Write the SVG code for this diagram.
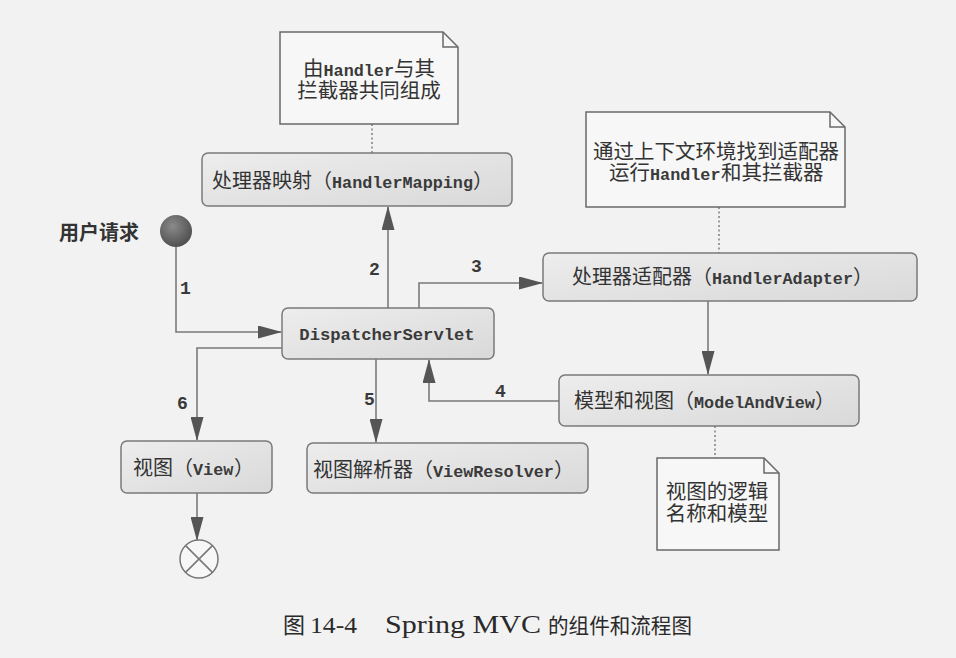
<svg xmlns="http://www.w3.org/2000/svg" width="956" height="658" viewBox="0 0 956 658">
<defs>
<style>
.box{fill:url(#boxg);stroke:#7a7a7a;stroke-width:1.5}
.note{fill:#f7f7f7;stroke:#6a6a6a;stroke-width:1.5}
.fold{fill:none;stroke:#6a6a6a;stroke-width:1.5}
.line{fill:none;stroke:#7a7a7a;stroke-width:1.6}
.dot{fill:none;stroke:#777;stroke-width:1.4;stroke-dasharray:2 2.5}
.cjk{font-family:"Noto Sans CJK SC","Noto Sans CJK JP",sans-serif;font-size:20px;fill:#333}
.nt{font-size:20.5px}
.mono{font-family:"Liberation Mono",monospace;font-size:16.8px;font-weight:bold;fill:#3a3a3a}
.num{font-family:"Liberation Mono",monospace;font-size:18px;font-weight:bold;fill:#3a3a3a}
.cap{fill:#2a2a2a}
</style>
<linearGradient id="boxg" x1="0" y1="0" x2="1" y2="1">
<stop offset="0" stop-color="#ededed"/>
<stop offset="1" stop-color="#d9d9d9"/>
</linearGradient>
<radialGradient id="startg" cx="0.4" cy="0.35" r="0.7">
<stop offset="0" stop-color="#8a8a8a"/>
<stop offset="1" stop-color="#4c4c4c"/>
</radialGradient>
<marker id="arr" markerUnits="userSpaceOnUse" markerWidth="24" markerHeight="13" viewBox="0 0 24 13" refX="23" refY="6.5" orient="auto">
<path d="M0,0 L24,6.5 L0,13 Z" fill="#555"/>
</marker>
</defs>
<rect x="0" y="0" width="956" height="658" fill="#f2f2f2"/>

<g id="connectors">
<path class="line" d="M176,247 V332 H281" marker-end="url(#arr)"/>
<path class="line" d="M388,308 V207" marker-end="url(#arr)"/>
<path class="line" d="M419,308 V283 H542" marker-end="url(#arr)"/>
<path class="line" d="M708,301 V374" marker-end="url(#arr)"/>
<path class="line" d="M559,401 H429 V360" marker-end="url(#arr)"/>
<path class="line" d="M376,359 V442" marker-end="url(#arr)"/>
<path class="line" d="M282,348 H197 V440" marker-end="url(#arr)"/>
<path class="line" d="M197,493 V540" marker-end="url(#arr)"/>
<path class="dot" d="M372,124 V153"/>
<path class="dot" d="M719,207 V253"/>
<path class="dot" d="M715,426 V458"/>
<text class="num" x="180" y="294">1</text>
<text class="num" x="369" y="275">2</text>
<text class="num" x="471" y="272">3</text>
<text class="num" x="495" y="397">4</text>
<text class="num" x="364" y="405">5</text>
<text class="num" x="177" y="409">6</text>
</g>

<g id="start">
<circle cx="176" cy="231" r="16" fill="url(#startg)"/>
<text class="cjk" x="59" y="240" style="font-weight:bold">用户请求</text>
</g>

<g id="note-handler">
<path class="note" d="M280,32 H443 L458,47 V124 H280 Z"/>
<path class="fold" d="M443,32 V47 H458"/>
<text class="cjk nt" x="303" y="76">由</text>
<text class="mono" x="323.5" y="76">Handler</text>
<text class="cjk nt" x="394" y="76">与其</text>
<text class="cjk nt" x="369" y="98" text-anchor="middle">拦截器共同组成</text>
</g>

<g id="handler-mapping">
<rect class="box" x="202" y="153" width="310" height="53" rx="6"/>
<text class="cjk" x="212" y="188">处理器映射（</text>
<text class="mono" x="332" y="188">HandlerMapping</text>
<text class="cjk" x="473" y="188">）</text>
</g>

<g id="note-adapter">
<path class="note" d="M586,112 H830 L845,127 V207 H586 Z"/>
<path class="fold" d="M830,112 V127 H845"/>
<text class="cjk nt" x="716" y="159" text-anchor="middle">通过上下文环境找到适配器</text>
<text class="cjk nt" x="609" y="180">运行</text>
<text class="mono" x="650" y="180">Handler</text>
<text class="cjk nt" x="721" y="180">和其拦截器</text>
</g>

<g id="handler-adapter">
<rect class="box" x="543" y="253" width="374" height="48" rx="6"/>
<text class="cjk" x="572" y="284">处理器适配器（</text>
<text class="mono" x="712" y="284">HandlerAdapter</text>
<text class="cjk" x="853" y="284">）</text>
</g>

<g id="dispatcher">
<rect class="box" x="282" y="308" width="212" height="51" rx="6"/>
<text class="mono" x="387" y="340" text-anchor="middle" style="font-size:17.2px">DispatcherServlet</text>
</g>

<g id="model-and-view">
<rect class="box" x="559" y="375" width="300" height="51" rx="6"/>
<text class="cjk" x="574" y="408">模型和视图（</text>
<text class="mono" x="694" y="408">ModelAndView</text>
<text class="cjk" x="815" y="408">）</text>
</g>

<g id="view-resolver">
<rect class="box" x="307" y="443" width="281" height="50" rx="6"/>
<text class="cjk" x="313" y="477">视图解析器（</text>
<text class="mono" x="433" y="477">ViewResolver</text>
<text class="cjk" x="554" y="477">）</text>
</g>

<g id="view">
<rect class="box" x="121" y="441" width="151" height="52" rx="6"/>
<text class="cjk" x="133" y="475">视图（</text>
<text class="mono" x="193" y="475">View</text>
<text class="cjk" x="234" y="475">）</text>
</g>

<g id="end">
<circle cx="199" cy="559" r="19" fill="#f7f7f7" stroke="#777" stroke-width="1.5"/>
<path d="M185.6,545.6 L212.4,572.4 M212.4,545.6 L185.6,572.4" stroke="#777" stroke-width="1.5"/>
</g>

<g id="note-view">
<path class="note" d="M657,458 H764 L779,473 V550 H657 Z"/>
<path class="fold" d="M764,458 V473 H779"/>
<text class="cjk nt" x="717" y="499" text-anchor="middle">视图的逻辑</text>
<text class="cjk nt" x="717" y="521" text-anchor="middle">名称和模型</text>
</g>

<g id="caption" class="cap">
<text x="283" y="633" style="font-family:'Noto Sans CJK SC',sans-serif;font-size:22px">图</text>
<text x="310" y="633" textLength="47" lengthAdjust="spacingAndGlyphs" style="font-family:'Liberation Serif',serif;font-size:24px">14-4</text>
<text x="385" y="633" textLength="156" lengthAdjust="spacingAndGlyphs" style="font-family:'Liberation Serif',serif;font-size:25px">Spring MVC</text>
<text x="548" y="633" textLength="144" lengthAdjust="spacingAndGlyphs" style="font-family:'Noto Sans CJK SC',sans-serif;font-size:21px">的组件和流程图</text>
</g>
</svg>
